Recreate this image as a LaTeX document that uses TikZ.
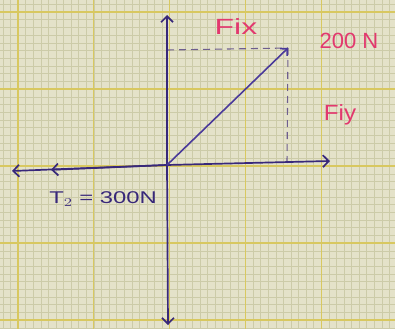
\documentclass[tikz,border=0pt]{standalone}
\usepackage{fontspec}
\setmainfont{Liberation Sans}
\usetikzlibrary{arrows.meta}
\definecolor{paper}{HTML}{E4E2C9}
\definecolor{minorl}{HTML}{CCCBA8}
\definecolor{majorl}{HTML}{D8C860}
\definecolor{ink}{HTML}{38287A}
\definecolor{vec}{HTML}{4A3A9A}
\definecolor{pinkink}{HTML}{E2386E}
\definecolor{dashink}{HTML}{6E5E8E}
\tikzset{
  axis/.style={ink, line width=1.7pt, -{Straight Barb[length=6pt,width=12pt]}},
  vector/.style={vec, line width=1.6pt, -{Straight Barb[length=5pt,width=10pt]}},
  guide/.style={dashink, line width=1.1pt, dash pattern=on 7pt off 5pt},
  pinklabel/.style={pinkink, font=\fontsize{22}{22}\selectfont},
  purplelabel/.style={ink, font=\fontsize{17}{17}\selectfont},
}
\begin{document}
\begin{tikzpicture}[x=1pt,y=-1pt]
\useasboundingbox (0,0) rectangle (395,329);
\fill[paper] (0,0) rectangle (395,329);
% minor grid
\foreach \i in {-2,...,52} {
  \draw[minorl, line width=0.4pt] ({18+7.58*\i},0) -- ({18+7.58*\i},329);
  \draw[minorl, line width=0.4pt] (0,{12+7.7*\i}) -- (395,{12+7.7*\i});
}
% major grid
\foreach \i in {0,...,5} {
  \draw[majorl, line width=1.2pt] ({18+75.8*\i},0) -- ({18+75.8*\i},329);
  \draw[majorl, line width=1.2pt] (0,{12+77*\i}) -- (395,{12+77*\i});
}
\coordinate (O) at (167,165);
\coordinate (top) at (167,15);
\coordinate (bot) at (168,325);
\coordinate (rt) at (330,161);
\coordinate (lt) at (12,171);
\coordinate (lt2) at (51,169.8);
\coordinate (tip) at (288,48);
\coordinate (hx) at (167,50);
\coordinate (foot) at (287,163);
% dashed guides
\draw[guide] (hx) -- (tip);
\draw[guide] (tip) -- (foot);
% axes
\draw[axis] (O) -- (top);
\draw[axis] (O) -- (bot);
\draw[axis] (O) -- (rt);
\draw[axis] (O) -- (lt);
\draw[axis] (O) -- (lt2);
% vector
\draw[vector] (O) -- (tip);
% labels
\node[pinklabel] (fix) at (236,27) {\scalebox{1.45}[1]{Fix}};
\node[pinklabel] (f200) at (349,41) {200 N};
\node[pinklabel] (fiy) at (340,115) {\scalebox{1.1}[1]{Fiy}};
\node[purplelabel] (t2) at (103,199) {\scalebox{1.4}[1]{T$_2$ = 300N}};
\end{tikzpicture}
\end{document}
